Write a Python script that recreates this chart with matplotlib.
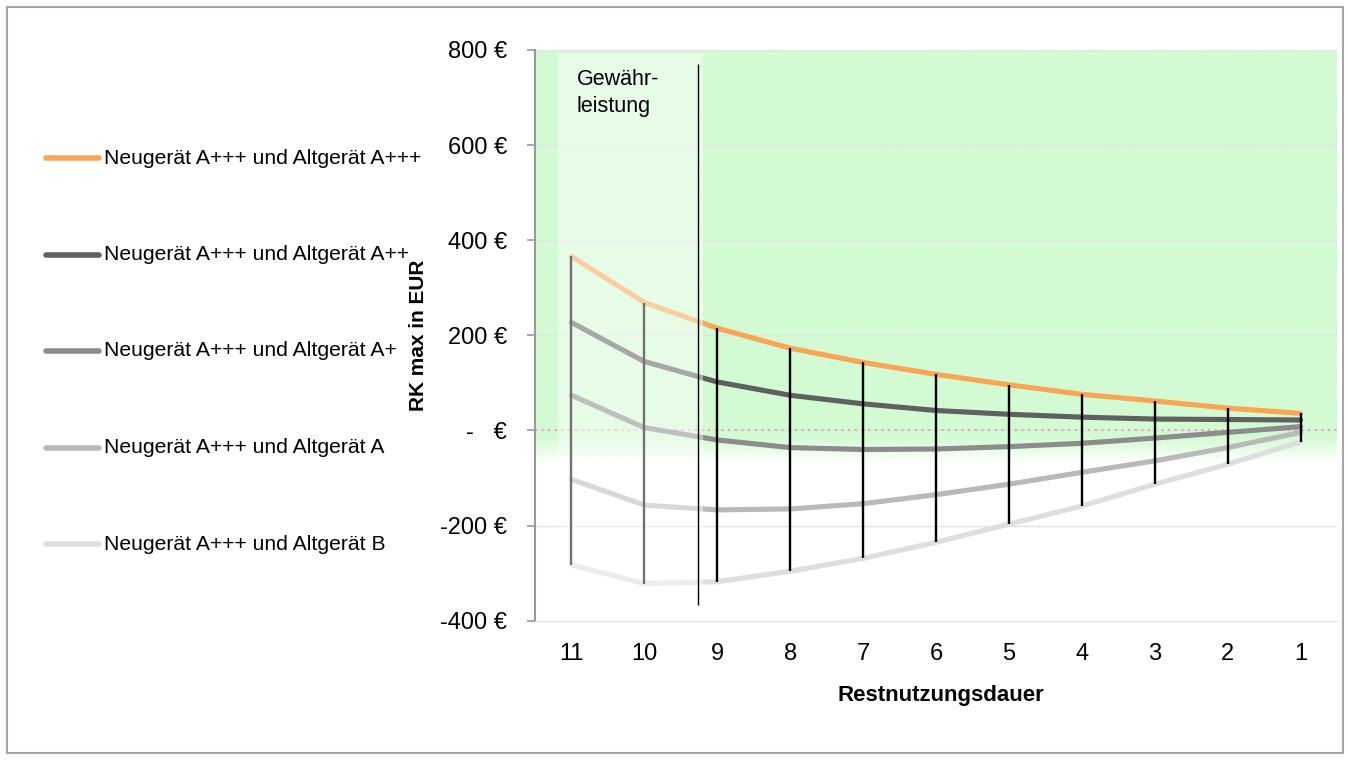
import numpy as np
import matplotlib
matplotlib.use("Agg")
import matplotlib.pyplot as plt
from matplotlib.patches import Rectangle
from matplotlib.lines import Line2D

plt.rcParams["font.family"] = ["Liberation Sans", "DejaVu Sans"]

# ── Data ──────────────────────────────────────────────────────────────────────
years = [11, 10, 9, 8, 7, 6, 5, 4, 3, 2, 1]
rk_a3 = [366, 269, 215, 173, 143, 118, 96, 76, 62, 47, 36]
rk_a2 = [227, 145, 102, 74, 56, 42, 34, 28, 24, 23, 22]
rk_a1 = [74, 6, -20, -36, -40, -39, -34, -27, -16, -4, 8]
rk_a0 = [-103, -157, -167, -165, -154, -135, -113, -88, -64, -36, -4]
rk_b = [-283, -322, -318, -296, -269, -235, -197, -159, -113, -71, -24]

series_labels = [
    "Neugerät A+++ und Altgerät A+++",
    "Neugerät A+++ und Altgerät A++",
    "Neugerät A+++ und Altgerät A+",
    "Neugerät A+++ und Altgerät A",
    "Neugerät A+++ und Altgerät B",
]
series_colors = ["#f9a654", "#606060", "#8c8c8c", "#b9b9b9", "#dedede"]

yticks = [-400, -200, 0, 200, 400, 600, 800]
ytick_labels = ["-400 €", "-200 €", "-   €", "200 €", "400 €", "600 €", "800 €"]

warranty_end = 9.26     # Gewährleistung ends here (between year 10 and 9)

# ── Figure ────────────────────────────────────────────────────────────────────
W, H = 1348, 760
fig = plt.figure(figsize=(W / 100, H / 100), dpi=100)
ax = fig.add_axes([535 / W, 1 - 620.7 / H, (1337 - 535) / W, (620.7 - 50) / H])

# green "profitable" background, fading out just below zero
yy = np.linspace(-70, 800, 400)
alpha = np.clip((yy + 70) / 55, 0, 1)
grad = np.zeros((len(yy), 1, 4))
grad[..., 0] = 211 / 255
grad[..., 1] = 251 / 255
grad[..., 2] = 211 / 255
grad[:, 0, 3] = alpha
ax.imshow(grad, extent=[11.5, 0.5, -70, 800], origin="lower",
          aspect="auto", zorder=0, interpolation="bilinear")

for y in yticks:
    ax.axhline(y, color="#e2e2e2", lw=1, zorder=0.5)
ax.axhline(0, color="#e08a8a", lw=1.2, ls=(0, (1, 3)), zorder=0.6)

all_series = [rk_a3, rk_a2, rk_a1, rk_a0, rk_b]
for vals, col in zip(all_series[::-1], series_colors[::-1]):
    ax.plot(years, vals, color=col, lw=3.7, solid_capstyle="round",
            solid_joinstyle="round", zorder=2)

# drop lines from top series to bottom series
ax.vlines(years, rk_b, rk_a3, color="black", lw=1.7, zorder=3)

# warranty period overlay
ax.add_patch(Rectangle((9.20, -400), 11.19 - 9.20, 1193, facecolor="white",
                       edgecolor="none", alpha=0.45, zorder=4))
ax.vlines(warranty_end, -366, 771, color="black", lw=1.0, zorder=5)
ax.text(10.93, 760, "Gewähr-\nleistung", ha="left", va="top", fontsize=15.5,
        linespacing=1.35, zorder=6)

ax.set_xlim(11.5, 0.5)
ax.set_ylim(-400, 800)
ax.set_xticks(years)
ax.set_xticklabels([str(y) for y in years], fontsize=17)
ax.set_yticks(yticks)
ax.set_yticklabels(ytick_labels, fontsize=17)
ax.tick_params(axis="x", length=0, pad=16)
ax.tick_params(axis="y", length=6, width=1.2, color="#999999", pad=14)

for s in ["top", "right"]:
    ax.spines[s].set_visible(False)
ax.spines["bottom"].set_color("#e2e2e2")
ax.spines["left"].set_color("#999999")
ax.spines["left"].set_linewidth(1.5)

fig.text(941 / W, 1 - 695 / H, "Restnutzungsdauer", ha="center", va="center",
         fontsize=16, fontweight="bold")
fig.text(418 / W, 1 - 335 / H, "RK max in EUR", ha="center", va="center",
         rotation=90, fontsize=15, fontweight="bold")

# ── Legend (left side) ────────────────────────────────────────────────────────
for i, (lab, col) in enumerate(zip(series_labels, series_colors)):
    yl = 1 - (158 + i * 96.5) / H
    fig.add_artist(Line2D([46 / W, 99 / W], [yl, yl], color=col, lw=4.0,
                          solid_capstyle="round", transform=fig.transFigure))
    fig.text(104 / W, yl, lab, ha="left", va="center", fontsize=15.2)

# outer frame
fig.add_artist(Rectangle((7 / W, 1 - 753 / H), (1343 - 7) / W, (753 - 7) / H,
                         transform=fig.transFigure, fill=False,
                         edgecolor="#a6a6a6", lw=1.5))

fig.savefig("out.png", dpi=100)
